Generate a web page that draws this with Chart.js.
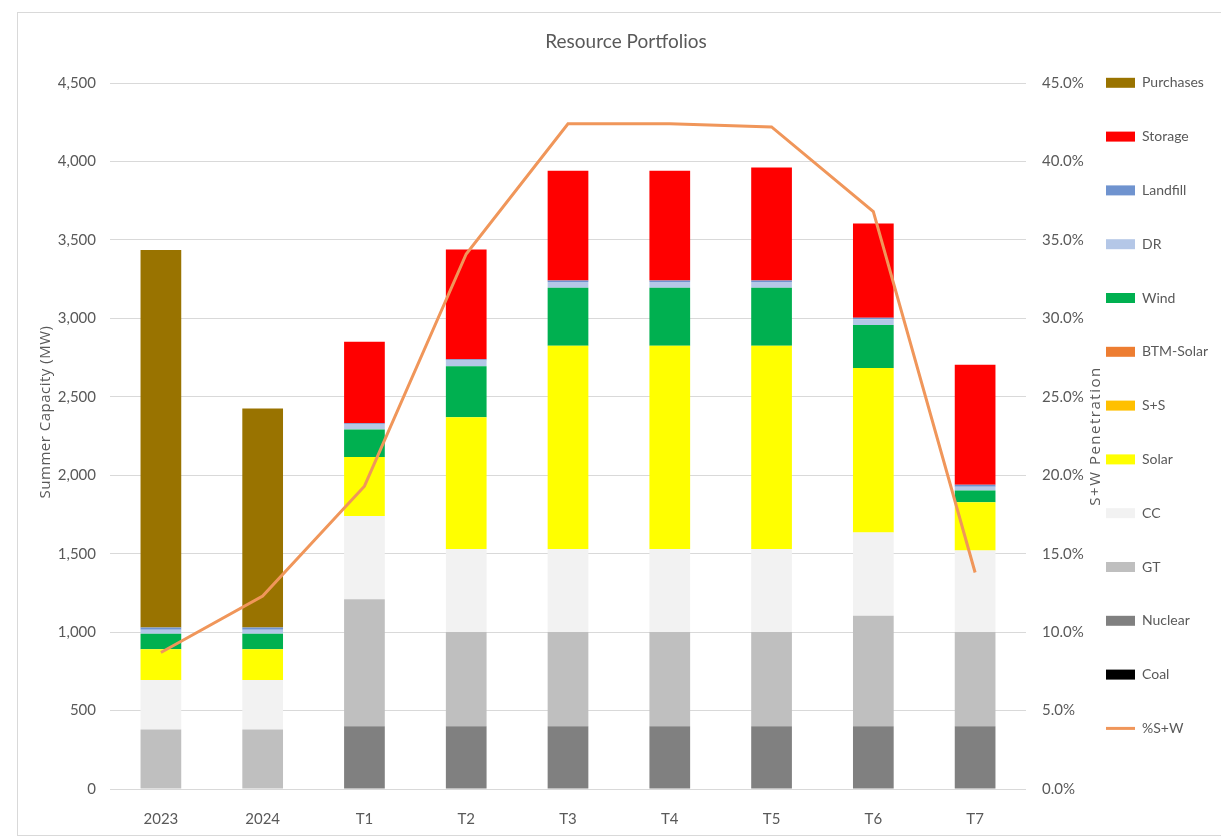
<!DOCTYPE html>
<html>
<head>
<meta charset="utf-8">
<title>Resource Portfolios</title>
<script src="https://cdn.jsdelivr.net/npm/chart.js@4.4.1/dist/chart.umd.min.js"></script>
<style>
  html, body { margin: 0; padding: 0; background: #fff; overflow: hidden; }
  #frame { position: absolute; left: 17px; top: 12px; width: 1215px; height: 822px; border: 1px solid #d9d9d9; }
  #myChart { position: absolute; left: 0; top: 0; }
</style>
</head>
<body>
<div id="frame"></div>
<canvas id="myChart" width="1221" height="837"></canvas>
<script>
// categories
var years = ['2023', '2024', 'T1', 'T2', 'T3', 'T4', 'T5', 'T6', 'T7'];

// summer capacity, MW (bottom of the stack first)
var coal      = [0, 0, 0, 0, 0, 0, 0, 0, 0];
var nuclear   = [0, 0, 400, 400, 400, 400, 400, 400, 400];
var gt        = [380, 380, 810, 600, 600, 600, 600, 705, 600];
var cc        = [315, 315, 530, 530, 530, 530, 530, 530, 520];
var solar     = [195, 195, 376, 840, 1295, 1295, 1295, 1048, 308];
var sPlusS    = [0, 0, 0, 0, 0, 0, 0, 0, 0];
var btmSolar  = [0, 0, 0, 0, 0, 0, 0, 0, 0];
var wind      = [100, 100, 175, 325, 370, 370, 370, 275, 75];
var dr        = [25, 25, 32, 36, 36, 36, 36, 36, 24];
var landfill  = [15, 15, 8, 8, 10, 10, 10, 10, 12];
var storage   = [0, 0, 520, 700, 700, 700, 720, 600, 765];
var purchases = [2405, 1395, 0, 0, 0, 0, 0, 0, 0];

// solar + wind penetration, %
var swPct = [8.7, 12.3, 19.3, 34.1, 42.4, 42.4, 42.2, 36.8, 13.8];

var yTicks = { min: 0, max: 4500, step: 500 };
var y1Ticks = { min: 0, max: 45, step: 5 };

var txt = '#595959';

function bar(label, data, color) {
    return { type: 'bar', label: label, data: data, backgroundColor: color, borderWidth: 0,
             yAxisID: 'y', stack: 'cap', order: 1 };
}

var datasets = [
    bar('Coal', coal, '#000000'),
    bar('Nuclear', nuclear, '#808080'),
    bar('GT', gt, '#bfbfbf'),
    bar('CC', cc, '#f2f2f2'),
    bar('Solar', solar, '#ffff00'),
    bar('S+S', sPlusS, '#ffc000'),
    bar('BTM-Solar', btmSolar, '#ed7d31'),
    bar('Wind', wind, '#00b050'),
    bar('DR', dr, '#b4c7e7'),
    bar('Landfill', landfill, '#6f93cf'),
    bar('Storage', storage, '#ff0000'),
    bar('Purchases', purchases, '#997300'),
    { type: 'line', label: '%S+W', data: swPct, borderColor: '#f0965a', backgroundColor: '#f0965a',
      borderWidth: 3, pointRadius: 0, tension: 0, yAxisID: 'y1', order: -1 }
];

// rotated axis titles (both read bottom to top)
function sideTitle(ctx, text, x, y, spacing) {
    ctx.save();
    ctx.fillStyle = txt;
    ctx.font = '15px "Open Sans"';
    ctx.letterSpacing = spacing;
    ctx.textAlign = 'center';
    ctx.textBaseline = 'middle';
    ctx.translate(x, y);
    ctx.rotate(-Math.PI / 2);
    ctx.fillText(text, 0, 0);
    ctx.restore();
}

var axisTitles = {
    id: 'axisTitles',
    afterDraw: function (chart) {
        var a = chart.chartArea;
        var mid = (a.top + a.bottom) / 2;
        sideTitle(chart.ctx, 'Summer Capacity (MW)', 46, mid - 24, '0.5px');
        sideTitle(chart.ctx, 'S+W Penetration', 1096, mid, '1.5px');
    }
};

var legendKey = function (i) { return i === 12 ? -1 : i; };

var ctx = document.getElementById('myChart').getContext('2d');
var myChart = new Chart(ctx, {
    data: { labels: years, datasets: datasets },
    plugins: [axisTitles],
    options: {
        responsive: false,
        animation: false,
        layout: { padding: { left: 38, right: 7, top: 4, bottom: 0 } },
        font: { family: 'Lato' },
        datasets: { bar: { categoryPercentage: 1, barPercentage: 0.4 } },
        plugins: {
            title: {
                display: true, text: 'Resource Portfolios', color: txt,
                font: { family: 'Lato', size: 19, weight: 'normal' },
                padding: { top: 26.6, bottom: 29.6 }
            },
            legend: {
                position: 'right', align: 'center', maxWidth: 118,
                labels: {
                    color: txt, usePointStyle: true, pointStyleWidth: 29, boxWidth: 29, boxHeight: 10,
                    padding: 10,
                    font: { family: 'Lato', size: 14, lineHeight: '43.8px' },
                    sort: function (a, b) { return legendKey(b.datasetIndex) - legendKey(a.datasetIndex); },
                    generateLabels: function (chart) {
                        var items = Chart.defaults.plugins.legend.labels.generateLabels(chart);
                        items.forEach(function (it) {
                            var ds = chart.data.datasets[it.datasetIndex];
                            it.text = [it.text];
                            if (ds.type === 'line') {
                                it.pointStyle = 'line'; it.lineWidth = 3; it.strokeStyle = ds.borderColor;
                            } else {
                                it.pointStyle = 'rect'; it.lineWidth = 0; it.fillStyle = ds.backgroundColor;
                            }
                        });
                        return items;
                    }
                }
            },
            tooltip: { enabled: false }
        },
        scales: {
            x: {
                stacked: true,
                grid: { display: false },
                border: { display: false },
                ticks: { color: txt, font: { family: 'Lato', size: 15 }, padding: 13 },
                afterFit: function (s) { s.height = 48; }
            },
            y: {
                stacked: true, position: 'left',
                min: yTicks.min, max: yTicks.max,
                grid: { color: '#d9d9d9', drawTicks: false },
                border: { display: false },
                ticks: {
                    stepSize: yTicks.step, color: txt, padding: 14,
                    font: { family: 'Lato', size: 15 },
                    callback: function (v) { return v.toLocaleString('en-US'); }
                },
                afterFit: function (s) { s.width = 72; }
            },
            y1: {
                position: 'right',
                min: y1Ticks.min, max: y1Ticks.max,
                grid: { drawOnChartArea: false, drawTicks: false },
                border: { display: false },
                ticks: {
                    stepSize: y1Ticks.step, color: txt, padding: 16,
                    font: { family: 'Lato', size: 15 },
                    callback: function (v) { return v.toFixed(1) + '%'; }
                },
                afterFit: function (s) { s.width = 70; }
            }
        }
    }
});
</script>
</body>
</html>
